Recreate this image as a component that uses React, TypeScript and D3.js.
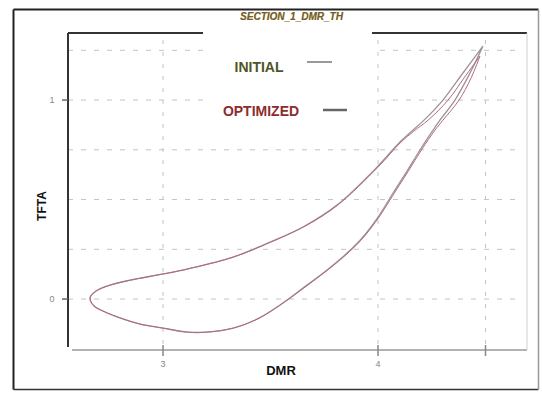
import * as d3 from 'd3';

// loop: start at the upper tip, run along the upper branch
// to the left nose, then back along the lower branch to the tip
const initialDMR = [
  4.488, 4.395, 4.302, 4.214, 4.158, 4.102, 3.995, 3.809, 3.651, 3.498, 3.326, 3.112, 3.0, 2.847, 2.753, 2.688, 2.66,
  2.679, 2.73, 2.8, 2.893, 3.0, 3.112, 3.205, 3.326, 3.437, 3.544, 3.651, 3.763, 3.856, 3.926, 4.0, 4.07, 4.135,
  4.195, 4.256, 4.288, 4.358, 4.428, 4.488,
];
const initialTFTA = [
  1.271, 1.136, 1.0, 0.899, 0.844, 0.789, 0.663, 0.472, 0.362, 0.286, 0.211, 0.151, 0.126, 0.095, 0.07, 0.04, 0.005,
  -0.035, -0.065, -0.095, -0.126, -0.146, -0.166, -0.166, -0.146, -0.101, -0.03, 0.055, 0.146, 0.231, 0.307, 0.412,
  0.533, 0.643, 0.749, 0.849, 0.899, 1.0, 1.136, 1.271,
];
const optimizedDMR = [
  4.474, 4.4, 4.326, 4.233, 4.167, 4.107, 4.0, 3.812, 3.653, 3.5, 3.327, 3.113, 3.001, 2.848, 2.754, 2.689, 2.661,
  2.68, 2.731, 2.801, 2.894, 3.001, 3.113, 3.206, 3.327, 3.438, 3.546, 3.654, 3.766, 3.86, 3.93, 4.005, 4.076,
  4.141, 4.202, 4.265, 4.302, 4.377, 4.433, 4.474,
];
const optimizedTFTA = [
  1.221, 1.111, 1.0, 0.899, 0.844, 0.789, 0.663, 0.472, 0.362, 0.286, 0.211, 0.151, 0.126, 0.095, 0.07, 0.04, 0.005,
  -0.035, -0.065, -0.095, -0.126, -0.146, -0.166, -0.166, -0.146, -0.101, -0.03, 0.055, 0.146, 0.231, 0.307, 0.412,
  0.533, 0.643, 0.749, 0.849, 0.899, 1.0, 1.111, 1.221,
];

const xGrid = [3, 4, 4.5];
const yGrid = [0, 0.25, 0.5, 0.75, 1, 1.25];
const xTickLabels = [{ v: 3, t: '3' }, { v: 4, t: '4' }];
const yTickLabels = [{ v: 0, t: '0' }, { v: 1, t: '1' }];
const legendItems = ['INITIAL', 'OPTIMIZED'];

const W = 542;
const H = 394;
const plot = { left: 68, right: 527, top: 33, bottom: 350 };
const font = '"Liberation Sans", Arial, sans-serif';

export default function App() {
  const x = d3.scaleLinear().domain([2.558, 4.693]).range([plot.left, plot.right]);
  const y = d3.scaleLinear().domain([-0.256, 1.337]).range([plot.bottom, plot.top]);

  const path = (xs: number[], ys: number[]) =>
    d3
      .line<[number, number]>()
      .x(d => x(d[0]))
      .y(d => y(d[1]))
      .curve(d3.curveCatmullRom.alpha(0.5))(xs.map((v, i) => [v, ys[i]])) || '';

  // legend box sits on top of the plot frame and hides part of it
  const legend = { x0: 203, x1: 372, y0: 27, y1: 125 };

  return (
    <svg
      width={W}
      height={H}
      style={{ position: 'absolute', left: 0, top: 0, background: '#fff' }}
      fontFamily={font}
    >
      <rect x={0} y={0} width={W} height={H} fill="#fff" />

      {/* outer frame */}
      <line x1={13.5} y1={9.5} x2={538.5} y2={9.5} stroke="#222" strokeWidth={2} />
      <line x1={13.5} y1={9.5} x2={13.5} y2={389.5} stroke="#222" strokeWidth={2} />
      <line x1={13.5} y1={389.5} x2={538.5} y2={389.5} stroke="#333" strokeWidth={1.5} />
      <line x1={538.5} y1={9.5} x2={538.5} y2={389.5} stroke="#999" strokeWidth={1.5} />

      {/* title */}
      <text x={292} y={20} textAnchor="middle" fontSize={10} fontStyle="italic" fontWeight="bold" fill="#e6c66a">
        SECTION_1_DMR_TH
      </text>
      <text x={291.5} y={19.5} textAnchor="middle" fontSize={10} fontStyle="italic" fontWeight="bold" fill="#6e5d35">
        SECTION_1_DMR_TH
      </text>

      {/* grid */}
      {yGrid.map(v => (
        <line
          key={'gy' + v}
          x1={plot.left}
          x2={517}
          y1={y(v)}
          y2={y(v)}
          stroke="#c4c4c4"
          strokeWidth={1}
          strokeDasharray="5,8"
        />
      ))}
      {xGrid.map(v => (
        <line
          key={'gx' + v}
          x1={x(v)}
          x2={x(v)}
          y1={40}
          y2={plot.bottom}
          stroke="#c4c4c4"
          strokeWidth={1}
          strokeDasharray="4,8"
        />
      ))}

      {/* plot frame */}
      <line x1={plot.left} y1={plot.top} x2={plot.right} y2={plot.top} stroke="#333" strokeWidth={2} />
      <line x1={plot.left} y1={plot.top} x2={plot.left} y2={347} stroke="#333" strokeWidth={2} />
      <line x1={72} y1={plot.bottom} x2={plot.right} y2={plot.bottom} stroke="#999" strokeWidth={1.5} />
      <line x1={plot.right} y1={plot.top} x2={plot.right} y2={plot.bottom} stroke="#d0d0d0" strokeWidth={1} />

      {/* ticks */}
      {xGrid.map(v => (
        <line key={'tx' + v} x1={x(v)} x2={x(v)} y1={345} y2={356} stroke="#888" strokeWidth={1.5} />
      ))}
      {yTickLabels.map(d => (
        <line key={'ty' + d.v} x1={62} x2={plot.left} y1={y(d.v)} y2={y(d.v)} stroke="#666" strokeWidth={1.5} />
      ))}
      {xTickLabels.map(d => (
        <text key={'lx' + d.v} x={x(d.v)} y={367} textAnchor="middle" fontSize={9} fill="#888">
          {d.t}
        </text>
      ))}
      {yTickLabels.map(d => (
        <text key={'ly' + d.v} x={52} y={y(d.v) + 3} textAnchor="middle" fontSize={9} fill="#888">
          {d.t}
        </text>
      ))}

      {/* legend */}
      <rect x={legend.x0} y={legend.y0} width={legend.x1 - legend.x0} height={legend.y1 - legend.y0} fill="#fff" />
      <text x={259} y={72} textAnchor="middle" fontSize={14} fontWeight="bold" fill="#4f5526">
        {legendItems[0]}
      </text>
      <line x1={307} x2={332} y1={62} y2={62} stroke="#777" strokeWidth={1.5} />
      <text x={261} y={116} textAnchor="middle" fontSize={14} fontWeight="bold" fill="#8e2c2c">
        {legendItems[1]}
      </text>
      <line x1={323} x2={347} y1={110} y2={110} stroke="#666" strokeWidth={2.5} />

      {/* curves */}
      <path d={path(initialDMR, initialTFTA)} fill="none" stroke="#9c9499" strokeWidth={1.3} />
      <path d={path(optimizedDMR, optimizedTFTA)} fill="none" stroke="#b46a7c" strokeWidth={1} />

      {/* axis titles */}
      <text
        transform={`translate(46,206) rotate(-90)`}
        textAnchor="middle"
        fontSize={12}
        fontWeight="bold"
        fill="#111"
      >
        TFTA
      </text>
      <text x={281} y={375} textAnchor="middle" fontSize={13} fontWeight="bold" fill="#111">
        DMR
      </text>
    </svg>
  );
}
